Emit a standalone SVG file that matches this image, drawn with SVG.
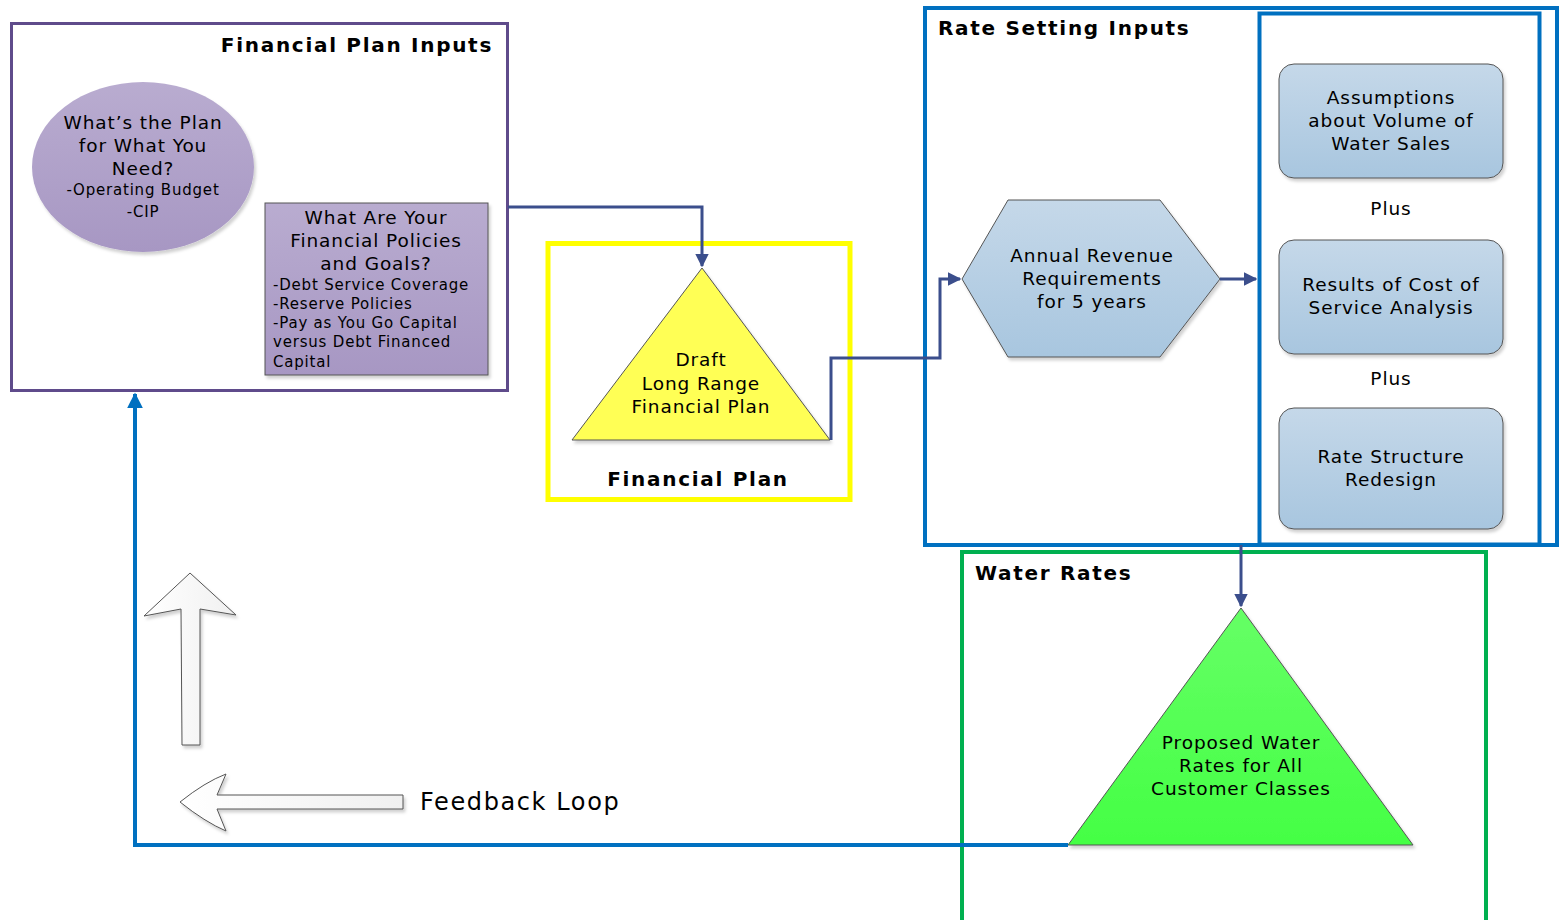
<svg xmlns="http://www.w3.org/2000/svg" width="1561" height="920" viewBox="0 0 1561 920">
<defs>
<linearGradient id="gPurple" x1="0" y1="0" x2="0" y2="1"><stop offset="0" stop-color="#b9acd0"/><stop offset="1" stop-color="#a797c3"/></linearGradient>
<linearGradient id="gBlue" x1="0" y1="0" x2="0" y2="1"><stop offset="0" stop-color="#c5d8e9"/><stop offset="1" stop-color="#a8c6df"/></linearGradient>
<linearGradient id="gGreen" x1="0" y1="0" x2="0" y2="1"><stop offset="0" stop-color="#66ff66"/><stop offset="1" stop-color="#44ff44"/></linearGradient>
<linearGradient id="gArrow" x1="0" y1="0" x2="1" y2="0"><stop offset="0" stop-color="#ffffff"/><stop offset="1" stop-color="#f0f0f0"/></linearGradient>
<filter id="sh" x="-10%" y="-10%" width="130%" height="130%"><feDropShadow dx="2" dy="3" stdDeviation="1.5" flood-color="#000" flood-opacity="0.18"/></filter>
<marker id="ah" viewBox="0 0 10 10" refX="9" refY="5" markerWidth="4.5" markerHeight="4.5" orient="auto" markerUnits="strokeWidth"><path d="M0,0 L10,5 L0,10 z" fill="#3b4e8c"/></marker>
<marker id="ahb" viewBox="0 0 10 10" refX="9" refY="5" markerWidth="4" markerHeight="4" orient="auto" markerUnits="strokeWidth"><path d="M0,0 L10,5 L0,10 z" fill="#0070c0"/></marker>
</defs>
<style>
.title{font-family:"DejaVu Sans",Verdana,sans-serif;font-weight:bold;font-size:20px;letter-spacing:1.7px;fill:#000}
.t{font-family:"DejaVu Sans",Verdana,sans-serif;font-size:18.5px;letter-spacing:0.9px;fill:#000;text-anchor:middle}
.s{font-family:"DejaVu Sans",Verdana,sans-serif;font-size:15px;letter-spacing:0.8px;fill:#000}
.conn{fill:none;stroke:#3b4e8c;stroke-width:3}
.fb{fill:none;stroke:#0070c0;stroke-width:4}
</style>
<rect width="1561" height="920" fill="#fff"/>

<g id="financial-plan-inputs">
<rect x="11.5" y="23.5" width="496" height="367" fill="#fff" stroke="#5f4b8b" stroke-width="3"/>
<text class="title" x="493" y="52" text-anchor="end">Financial Plan Inputs</text>
</g>
<g id="plan-need">
<ellipse cx="143" cy="167" rx="111" ry="85" fill="url(#gPurple)" filter="url(#sh)"/>
<text class="t" x="143" y="129">What’s the Plan</text>
<text class="t" x="143" y="152">for What You</text>
<text class="t" x="143" y="175">Need?</text>
<text class="s" x="143" y="195" text-anchor="middle">-Operating Budget</text>
<text class="s" x="143" y="217" text-anchor="middle">-CIP</text>
</g>
<g id="policies">
<rect x="265" y="203" width="223" height="172" fill="url(#gPurple)" stroke="#555" stroke-width="1" filter="url(#sh)"/>
<text class="t" x="376" y="224">What Are Your</text>
<text class="t" x="376" y="247">Financial Policies</text>
<text class="t" x="376" y="270">and Goals?</text>
<text class="s" x="273" y="290">-Debt Service Coverage</text>
<text class="s" x="273" y="309">-Reserve Policies</text>
<text class="s" x="273" y="328">-Pay as You Go Capital</text>
<text class="s" x="273" y="347">versus Debt Financed</text>
<text class="s" x="273" y="367">Capital</text>
</g>

<g id="financial-plan">
<rect x="548" y="243.5" width="302" height="256" fill="#fff" stroke="#ffff00" stroke-width="5"/>
<text class="title" x="698" y="486" text-anchor="middle">Financial Plan</text>
</g>
<g id="draft-plan">
<polygon points="702,268 830,440 572,440" fill="#ffff55" stroke="#555" stroke-width="1" filter="url(#sh)"/>
<text class="t" x="701" y="366">Draft</text>
<text class="t" x="701" y="390">Long Range</text>
<text class="t" x="701" y="413">Financial Plan</text>
</g>

<g id="rate-setting-inputs">
<rect x="925" y="8" width="632" height="537" fill="#fff" stroke="#0070c0" stroke-width="4"/>
<rect x="1259.5" y="13.5" width="280" height="531" fill="none" stroke="#0070c0" stroke-width="4"/>
<text class="title" x="938" y="35">Rate Setting Inputs</text>
</g>
<g id="revenue">
<polygon points="962,279 1008,200 1160,200 1220,279 1160,357 1008,357" fill="url(#gBlue)" stroke="#555" stroke-width="1" filter="url(#sh)"/>
<text class="t" x="1092" y="262">Annual Revenue</text>
<text class="t" x="1092" y="285">Requirements</text>
<text class="t" x="1092" y="308">for 5 years</text>
</g>
<g id="assumptions">
<rect x="1279" y="64" width="224" height="114" rx="15" fill="url(#gBlue)" stroke="#555" stroke-width="1" filter="url(#sh)"/>
<text class="t" x="1391" y="104">Assumptions</text>
<text class="t" x="1391" y="127">about Volume of</text>
<text class="t" x="1391" y="150">Water Sales</text>
</g>
<text class="t" x="1391" y="215">Plus</text>
<g id="cost-of-service">
<rect x="1279" y="240" width="224" height="114" rx="15" fill="url(#gBlue)" stroke="#555" stroke-width="1" filter="url(#sh)"/>
<text class="t" x="1391" y="291">Results of Cost of</text>
<text class="t" x="1391" y="314">Service Analysis</text>
</g>
<text class="t" x="1391" y="385">Plus</text>
<g id="rate-structure">
<rect x="1279" y="408" width="224" height="121" rx="15" fill="url(#gBlue)" stroke="#555" stroke-width="1" filter="url(#sh)"/>
<text class="t" x="1391" y="463">Rate Structure</text>
<text class="t" x="1391" y="486">Redesign</text>
</g>

<g id="water-rates">
<rect x="962" y="552" width="524" height="400" fill="#fff" stroke="#00b050" stroke-width="4"/>
<text class="title" x="975" y="580">Water Rates</text>
</g>
<g id="proposed-rates">
<polygon points="1241,608 1413,845 1068,845" fill="url(#gGreen)" stroke="#555" stroke-width="1" filter="url(#sh)"/>
<text class="t" x="1241" y="749">Proposed Water</text>
<text class="t" x="1241" y="772">Rates for All</text>
<text class="t" x="1241" y="795">Customer Classes</text>
</g>

<g id="feedback-loop">
<path d="M190,573 L236,615 L200,609 L200,745 L182,745 L181,609 L144,616 Z" fill="url(#gArrow)" stroke="#555" stroke-width="1" filter="url(#sh)"/>
<path d="M180,802 Q205,782 226,774 L217,795 L403,795 L403,809 L217,809 L226,831 Q205,822 180,802 Z" fill="url(#gArrow)" stroke="#555" stroke-width="1" filter="url(#sh)"/>
<text x="420" y="810" font-family="'DejaVu Sans',Verdana,sans-serif" font-size="24" letter-spacing="1.6" fill="#000">Feedback Loop</text>
</g>

<g id="connectors">
<path class="conn" d="M508,207 L702,207 L702,266" marker-end="url(#ah)"/>
<path class="conn" d="M831,440 L831,358 L940,358 L940,279 L960,279" marker-end="url(#ah)"/>
<path class="conn" d="M1220,279 L1256,279" marker-end="url(#ah)"/>
<path class="conn" d="M1241,545 L1241,606" marker-end="url(#ah)"/>
<path class="fb" d="M1068,845 L135,845 L135,394" marker-end="url(#ahb)"/>
</g>
</svg>
